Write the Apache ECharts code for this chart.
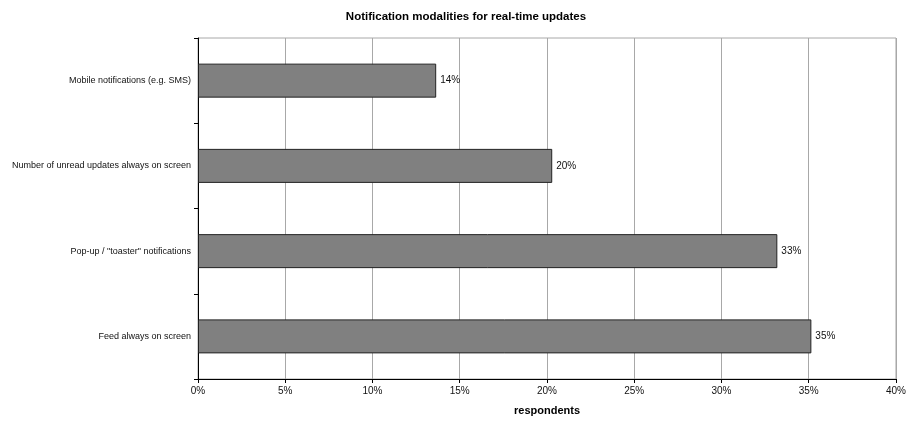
<!DOCTYPE html>
<html>
<head>
<meta charset="utf-8">
<script src="https://cdn.jsdelivr.net/npm/echarts@6/dist/echarts.min.js"></script>
<style>
  html, body { margin: 0; padding: 0; background: #ffffff; overflow: hidden; }
  #chart { width: 909px; height: 421px; }
</style>
</head>
<body>
<div id="chart"></div>
<script>
// Survey answers, listed bottom-to-top as the category axis draws them
const categories = [
  'Feed always on screen',
  'Pop-up / "toaster" notifications',
  'Number of unread updates always on screen',
  'Mobile notifications (e.g. SMS)'
];
// Share of respondents, in percent
const shares = [35.15, 33.2, 20.3, 13.65];
const xTicks = [0, 5, 10, 15, 20, 25, 30, 35, 40];

const FONT = 'Liberation Sans, Arial, sans-serif';
const chart = echarts.init(document.getElementById('chart'), null, { renderer: 'canvas' });

chart.setOption({
  backgroundColor: '#ffffff',
  animation: false,
  title: {
    text: 'Notification modalities for real-time updates',
    left: 461,
    top: 6,
    textAlign: 'center',
    textStyle: { fontFamily: FONT, fontSize: 11.5, fontWeight: 'bold', color: '#000' }
  },
  grid: {
    left: 198,
    right: 9,
    top: 38,
    bottom: 39,
    show: true,
    borderColor: '#a8a8a8',
    borderWidth: 1,
    containLabel: false
  },
  xAxis: {
    type: 'value',
    min: xTicks[0],
    max: xTicks[xTicks.length - 1],
    interval: 5,
    name: 'respondents',
    nameLocation: 'middle',
    nameGap: 26,
    nameTextStyle: { fontFamily: FONT, fontSize: 11, fontWeight: 'bold', color: '#000' },
    axisLine: { show: true, lineStyle: { color: '#000', width: 1 } },
    axisTick: { show: true, length: 4, lineStyle: { color: '#000' } },
    axisLabel: {
      fontFamily: FONT, fontSize: 10, color: '#111', margin: 7,
      formatter: v => v + '%'
    },
    splitLine: { show: true, lineStyle: { color: '#a8a8a8', width: 1 } }
  },
  yAxis: {
    type: 'category',
    data: categories,
    axisLine: { show: true, lineStyle: { color: '#000', width: 1 } },
    axisTick: { show: true, length: 4, alignWithLabel: false, lineStyle: { color: '#000' } },
    axisLabel: { fontFamily: FONT, fontSize: 9, color: '#111', margin: 7 },
    splitLine: { show: false }
  },
  series: [{
    type: 'bar',
    data: shares,
    barWidth: 34,
    itemStyle: { color: '#808080', borderColor: '#222', borderWidth: 1 },
    label: {
      show: true,
      position: 'right',
      distance: 4,
      fontFamily: FONT,
      fontSize: 10,
      color: '#111',
      formatter: p => Math.round(p.value) + '%'
    }
  }]
});
</script>
</body>
</html>
